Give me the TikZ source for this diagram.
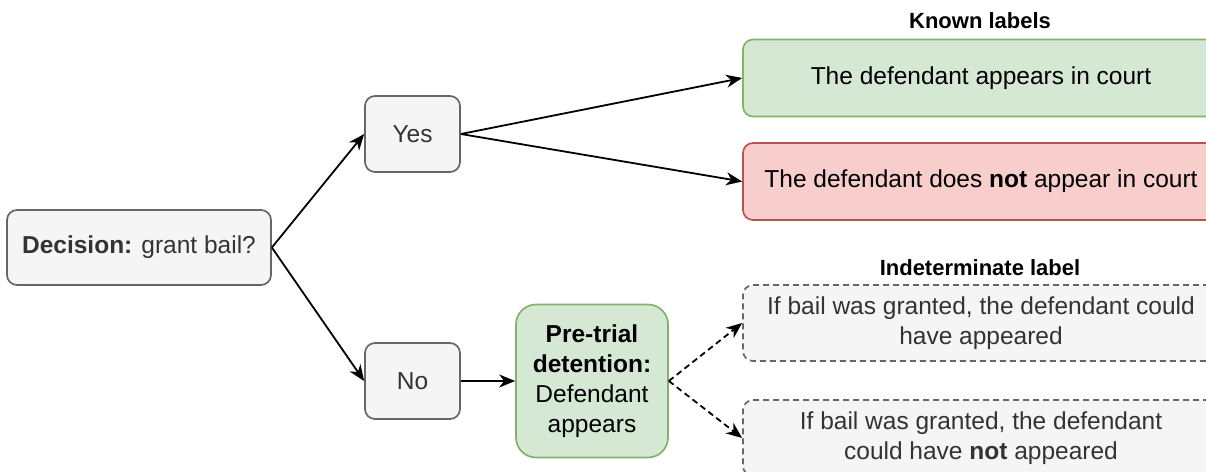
\documentclass[tikz,border=0pt]{standalone}
\usepackage{fontspec}
\setmainfont{Liberation Sans}
\usetikzlibrary{arrows.meta}
\definecolor{greyfill}{HTML}{F5F5F5}
\definecolor{greydraw}{HTML}{666666}
\definecolor{greytext}{HTML}{333333}
\definecolor{greenfill}{HTML}{D5E8D4}
\definecolor{greendraw}{HTML}{82B366}
\definecolor{redfill}{HTML}{F8CECC}
\definecolor{reddraw}{HTML}{B85450}
\tikzset{
  basebox/.style={line width=1.7pt, rounded corners=10pt, align=center, inner sep=0pt},
  greybox/.style={basebox, draw=greydraw, fill=greyfill, text=greytext},
  greenbox/.style={basebox, draw=greendraw, fill=greenfill, text=black},
  redbox/.style={basebox, draw=reddraw, fill=redfill, text=black},
  dashbox/.style={greybox, dash pattern=on 6pt off 4pt},
  title/.style={font=\fontsize{22}{26}\selectfont\bfseries, text=black},
  arr/.style={-{Stealth[length=16pt,width=13pt,inset=5pt]}, line width=1.8pt, black},
  darr/.style={arr, dash pattern=on 6pt off 4pt},
}
\begin{document}
\begin{tikzpicture}[x=1pt,y=-1pt, font=\fontsize{24.5}{29.8}\selectfont]
\useasboundingbox (0,0) rectangle (1206,471);
\fill[white] (0,0) rectangle (1206,471);

\node[greybox, minimum width=264pt, minimum height=75pt] (dec) at (139,247.5) {\textbf{Decision:} grant bail?};
\node[greybox, minimum width=95pt, minimum height=76pt] (yes) at (412.5,134) {Yes};
\node[greybox, minimum width=95pt, minimum height=76pt] (no) at (412.5,381) {No};
\node[greenbox, rounded corners=20pt, minimum width=152pt, minimum height=153pt] (pre) at (592,381) {\textbf{Pre-trial}\\\textbf{detention:}\\Defendant\\appears};

\node[title] (known) at (980,21) {Known labels};
\node[greenbox, minimum width=476pt, minimum height=77pt] (app) at (981,78) {\raisebox{-2pt}{The defendant appears in court}};
\node[redbox, minimum width=476pt, minimum height=77pt] (notapp) at (981,181.5) {\raisebox{-2pt}{The defendant does \textbf{not} appear in court}};

\node[title] (indet) at (980,268) {Indeterminate label};
\node[dashbox, minimum width=476pt, minimum height=76pt] (could) at (981,323) {If bail was granted, the defendant could\\have appeared};
\node[dashbox, minimum width=476pt, minimum height=76pt] (couldnot) at (981,438) {If bail was granted, the defendant\\could have \textbf{not} appeared};

\draw[arr] (dec.east) -- (yes.west);
\draw[arr] (dec.east) -- (no.west);
\draw[arr] (yes.east) -- (app.west);
\draw[arr] (yes.east) -- (notapp.west);
\draw[arr] (no.east) -- (pre.west);
\draw[darr] (pre.east) -- (could.west);
\draw[darr] (pre.east) -- (couldnot.west);
\end{tikzpicture}
\end{document}
